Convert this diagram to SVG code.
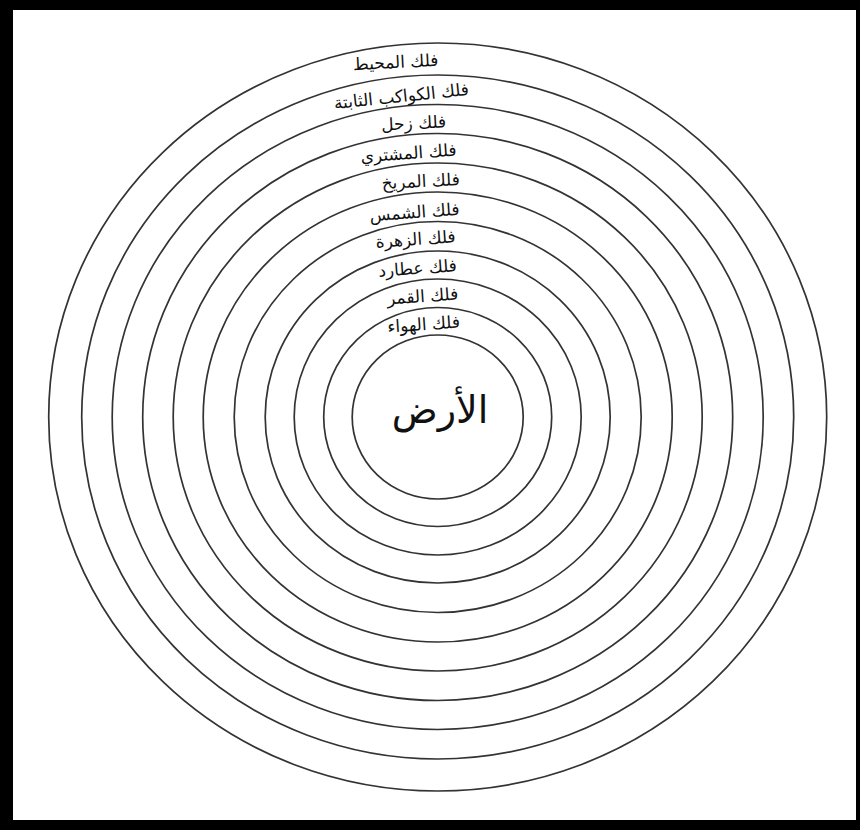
<svg xmlns="http://www.w3.org/2000/svg" width="860" height="830" viewBox="0 0 860 830">
<style>
.ring{fill:none;stroke:#333;stroke-width:1.7}
.lbl{font-family:"DejaVu Sans",sans-serif;font-size:17px;fill:#111;text-anchor:middle}
.earth{font-family:"DejaVu Sans",sans-serif;font-size:38px;fill:#111;text-anchor:middle}
</style>
<rect x="0" y="0" width="860" height="830" fill="#000"/>
<rect x="13" y="10" width="843" height="810" fill="#fff"/>
<g id="muhit"><ellipse class="ring" cx="437.7" cy="417" rx="389" ry="374"/><text class="lbl" x="396" y="68" transform="rotate(-3 396 68)">فلك المحيط</text></g>
<g id="thabita"><ellipse class="ring" cx="437.7" cy="417" rx="356" ry="342"/><text class="lbl" x="402" y="102" transform="rotate(-6 402 102)">فلك الكواكب الثابتة</text></g>
<g id="zuhal"><ellipse class="ring" cx="437.7" cy="417" rx="325.5" ry="312.5"/><text class="lbl" x="414" y="129" transform="rotate(-3 414 129)">فلك زحل</text></g>
<g id="mushtari"><ellipse class="ring" cx="437.7" cy="417" rx="295" ry="283.5"/><text class="lbl" x="409" y="159" transform="rotate(-4 409 159)">فلك المشتري</text></g>
<g id="mirrikh"><ellipse class="ring" cx="437.7" cy="417" rx="264.5" ry="254"/><text class="lbl" x="421" y="187" transform="rotate(-3 421 187)">فلك المريخ</text></g>
<g id="shams"><ellipse class="ring" cx="437.7" cy="417" rx="234.5" ry="225"/><text class="lbl" x="415" y="218" transform="rotate(-4 415 218)">فلك الشمس</text></g>
<g id="zuhara"><ellipse class="ring" cx="437.7" cy="417" rx="203.5" ry="195.5"/><text class="lbl" x="416" y="245" transform="rotate(-4 416 245)">فلك الزهرة</text></g>
<g id="utarid"><ellipse class="ring" cx="437.7" cy="417" rx="172.5" ry="166"/><text class="lbl" x="418" y="274" transform="rotate(-4 418 274)">فلك عطارد</text></g>
<g id="qamar"><ellipse class="ring" cx="437.7" cy="417" rx="143.5" ry="138"/><text class="lbl" x="423" y="302" transform="rotate(-4 423 302)">فلك القمر</text></g>
<g id="hawa"><ellipse class="ring" cx="437.7" cy="417" rx="114" ry="109.5"/><text class="lbl" x="424" y="330" transform="rotate(-4 424 330)">فلك الهواء</text></g>
<g id="ard"><ellipse class="ring" cx="437.7" cy="417" rx="85.5" ry="82"/><text class="earth" x="440" y="423">الأرض</text></g>
</svg>
